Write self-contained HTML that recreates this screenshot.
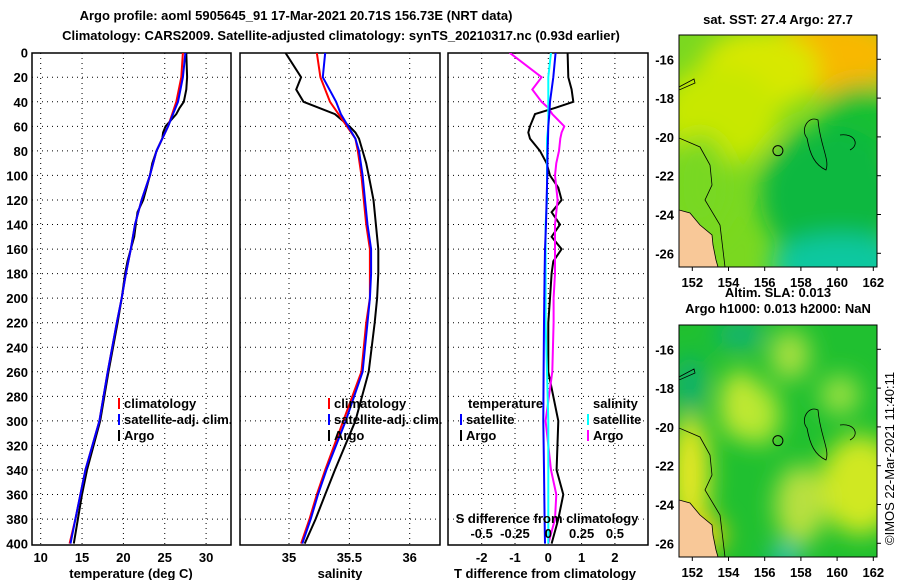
<!DOCTYPE html>
<html><head><meta charset="utf-8"><style>
body{margin:0;background:#fff;font-family:"Liberation Sans",sans-serif;}
svg text{font-family:"Liberation Sans",sans-serif;font-weight:bold;font-size:13px;fill:#000}
</style></head><body>
<svg id="fig" width="900" height="580" xmlns="http://www.w3.org/2000/svg">
<defs>
<filter id="blur" x="-50%" y="-50%" width="200%" height="200%"><feGaussianBlur stdDeviation="12"/></filter>
<clipPath id="c1"><rect x="679" y="35" width="198" height="232"/></clipPath>
<clipPath id="c2"><rect x="679" y="325" width="198" height="232"/></clipPath>
<clipPath id="p1"><rect x="32" y="53" width="199" height="492"/></clipPath>
<clipPath id="p2"><rect x="240" y="53" width="200" height="492"/></clipPath>
<clipPath id="p3"><rect x="448" y="53" width="200" height="492"/></clipPath>
</defs>
<text x="296" y="20" text-anchor="middle">Argo profile: aoml 5905645_91 17-Mar-2021 20.71S 156.73E (NRT data)</text>
<text x="341" y="40" text-anchor="middle">Climatology: CARS2009. Satellite-adjusted climatology: synTS_20210317.nc (0.93d earlier)</text>
<g id="plots"></g>
<g id="maps"></g>
<text x="778" y="24" text-anchor="middle" font-size="12">sat. SST: 27.4 Argo: 27.7</text>
<text x="778" y="297" text-anchor="middle" font-size="12">Altim. SLA: 0.013</text>
<text x="778" y="313" text-anchor="middle" font-size="12">Argo h1000: 0.013 h2000: NaN</text>
<text transform="translate(894,545) rotate(-90)" style="font-weight:normal" font-size="12">©IMOS 22-Mar-2021 11:40:11</text>
</svg>
<script>
// ---- data ----
const depths = [0,20,40,50,60,70,80,100,120,140,160,180,200,220,260,300,340,360,380,400];
const tempClim = [27.2,27.0,26.4,25.9,25.4,24.7,24.0,23.2,22.2,21.4,20.9,20.3,19.8,19.2,18.1,17.1,15.4,14.8,14.2,13.5];
const tempSat  = [27.5,27.2,26.6,26.0,25.4,24.7,24.0,23.2,22.2,21.4,20.9,20.3,19.8,19.2,18.1,17.1,15.4,14.8,14.2,13.6];
const argoDepths = [0,20,30,40,45,50,60,65,70,80,90,100,110,120,130,140,150,160,170,180,200,220,260,300,340,360,380,400];
const tempArgo = [27.6,27.7,27.6,27.3,26.8,26.4,25.1,24.8,24.7,24.0,23.5,23.2,22.8,22.4,21.7,21.5,21.3,20.9,20.5,20.2,19.8,19.3,18.2,17.2,15.6,15.0,14.5,14.0];
const salClim = [35.23,35.26,35.34,35.41,35.48,35.55,35.57,35.60,35.62,35.64,35.67,35.67,35.67,35.64,35.6,35.45,35.3,35.23,35.17,35.10];
const salSat  = [35.30,35.28,35.39,35.43,35.49,35.55,35.58,35.61,35.63,35.65,35.68,35.68,35.67,35.65,35.61,35.47,35.31,35.24,35.18,35.11];
const salArgo = [34.97,35.1,35.06,35.12,35.25,35.38,35.5,35.55,35.58,35.61,35.64,35.66,35.68,35.7,35.71,35.72,35.73,35.74,35.74,35.74,35.73,35.71,35.66,35.55,35.38,35.3,35.22,35.13];
const tDiffArgo = [0.58,0.6,0.7,0.75,0.2,-0.4,-0.55,-0.6,-0.55,-0.25,-0.05,0.05,0.3,0.4,0.1,0.35,0.1,0.4,0.15,0.1,0.05,0.0,0.0,0.3,0.25,0.45,0.3,0.1];
const sDiffArgo = [-0.29,-0.05,-0.12,-0.05,0.0,0.03,0.12,0.1,0.09,0.08,0.06,0.05,0.06,0.07,0.06,0.05,0.05,0.05,0.05,0.05,0.04,0.04,0.03,-0.02,0.02,0.06,0.05,0.0];
const tDiffSat = [0.22,0.15,0.05,0.03,0.0,-0.01,-0.02,-0.03,-0.05,-0.07,-0.1,-0.11,-0.12,-0.13,-0.14,-0.15,-0.13,-0.12,-0.11,-0.1];
const sDiffSat = [0.02,0.0,0.0,0.0,0.0,-0.01,-0.01,-0.01,-0.01,-0.02,-0.02,-0.02,-0.02,-0.02,-0.01,0.0,0.0,0.0,0.0,0.0];
const depthTicks = [0,20,40,60,80,100,120,140,160,180,200,220,240,260,280,300,320,340,360,380,400];
const tempTicks = [10,15,20,25,30];
const salTicks = [35,35.5,36];
const tdTicks = [-2,-1,0,1,2];
const sdTicks = [-0.5,-0.25,0,0.25,0.5];
const latTicks = [-16,-18,-20,-22,-24,-26];
const lonTicks = [152,154,156,158,160,162];

const NS='http://www.w3.org/2000/svg';
function mk(tag,attrs,parent){const e=document.createElementNS(NS,tag);for(const k in attrs)e.setAttribute(k,attrs[k]);parent.appendChild(e);return e;}
const y = d => 52.7 + d*1.2273;
const xT = t => 40.7 + (t-10)*8.27;
const xS = s => 289 + (s-35)*120.7;
const xTD = v => 548.3 + v*33.3;
const xSD = v => 548.3 + v*133.3;
const G=document.getElementById('plots');

function panel(x0,x1,name,vt,vfn){
  const g=mk('g',{},G);
  
  
  depthTicks.forEach(d=>{ if(d>0&&d<400){const l=mk('line',{x1:x0,x2:x1,y1:y(d),y2:y(d),stroke:'#000','stroke-dasharray':'1,4'},g);
    
    }});
  vt.forEach(v=>{const l=mk('line',{x1:vfn(v),x2:vfn(v),y1:53,y2:545,stroke:'#000','stroke-dasharray':'1,4'},g);
    
    });
  const r=mk('rect',{x:x0,y:53,width:x1-x0,height:492,fill:'none',stroke:'#000','stroke-width':1.5},g);
  
  
  return g;
}
function line(g,xs,ds,fx,col,name,clip){
  const pts=xs.map((v,i)=>fx(v).toFixed(1)+','+y(ds[i]).toFixed(1)).join(' ');
  const p=mk('polyline',{points:pts,fill:'none',stroke:col,'stroke-width':2,'clip-path':'url(#'+clip+')'},g);
  
  
}
function txt(g,x,yy,s,name,anchor){const t=mk('text',{x:x,y:yy,'text-anchor':anchor||'start'},g);t.textContent=s;
  
  return t;}

const g1=panel(32,231,'temperature-panel',tempTicks,xT);
depthTicks.forEach(d=>txt(g1,28,y(d)+5,String(d),'depth-tick-label','end'));
tempTicks.forEach(t=>txt(g1,xT(t),562,String(t),'temp-tick-label','middle'));
txt(g1,131,578,'temperature (deg C)','temp-axis-title','middle');
line(g1,tempArgo,argoDepths,xT,'#000','temp-argo-line','p1');
line(g1,tempClim,depths,xT,'#f00','temp-climatology-line','p1');
line(g1,tempSat,depths,xT,'#00f','temp-satellite-line','p1');

const g2=panel(240,440,'salinity-panel',salTicks,xS);
salTicks.forEach(t=>txt(g2,xS(t),562,String(t),'sal-tick-label','middle'));
txt(g2,340,578,'salinity','sal-axis-title','middle');
line(g2,salArgo,argoDepths,xS,'#000','sal-argo-line','p2');
line(g2,salClim,depths,xS,'#f00','sal-climatology-line','p2');
line(g2,salSat,depths,xS,'#00f','sal-satellite-line','p2');

const g3=panel(448,648,'difference-panel',tdTicks,xTD);
tdTicks.forEach(t=>txt(g3,xTD(t),562,String(t),'tdiff-tick-label','middle'));
txt(g3,545,578,'T difference from climatology','tdiff-axis-title','middle');
line(g3,tDiffArgo,argoDepths,xTD,'#000','tdiff-argo-line','p3');
line(g3,sDiffArgo,argoDepths,xSD,'#f0f','sdiff-argo-line','p3');
line(g3,sDiffSat,depths,xSD,'#0ff','sdiff-satellite-line','p3');
line(g3,tDiffSat,depths,xTD,'#00f','tdiff-satellite-line','p3');
txt(g3,547,523,'S difference from climatology','sdiff-axis-title','middle');
sdTicks.forEach(t=>txt(g3,xSD(t),538,String(t),'sdiff-tick-label','middle'));

function legend(g,x,yy,items){items.forEach((it,i)=>{
  const l=mk('line',{x1:x,x2:x,y1:yy+i*16-10,y2:yy+i*16+1,stroke:it[1],'stroke-width':2},g);
  
  
  txt(g,x+5,yy+i*16,it[0],'legend-entry');});}
legend(g1,119,408,[['climatology','#f00'],['satellite-adj. clim.','#00f'],['Argo','#000']]);
legend(g2,329,408,[['climatology','#f00'],['satellite-adj. clim.','#00f'],['Argo','#000']]);
txt(g3,468,408,'temperature','legend-header');
legend(g3,461,424,[['satellite','#00f'],['Argo','#000']]);
txt(g3,593,408,'salinity','legend-header');
legend(g3,588,424,[['satellite','#0ff'],['Argo','#f0f']]);

// maps
const M=document.getElementById('maps');
const mx = lon => 692.3 + (lon-152)*18.1;
function map(y0,latY,clip,name,bg,blobs){
  const g=mk('g',{},M);
  
  
  const inner=mk('g',{'clip-path':'url(#'+clip+')'},g);
  mk('rect',{x:679,y:y0,width:198,height:232,fill:bg},inner);
  const bl=mk('g',{filter:'url(#blur)'},inner);
  blobs.forEach(b=>mk('ellipse',{cx:b[0],cy:y0+b[1],rx:b[2],ry:b[3],fill:b[4]},bl));
  const land=mk('polygon',{points:`679,${y0+175} 690,${y0+178} 700,${y0+190} 712,${y0+200} 713,${y0+210} 716,${y0+225} 718,${y0+232} 679,${y0+232}`,fill:'#f8c898',stroke:'#000','stroke-width':0.8},inner);
  
  
  const c=mk('path',{d:`M679,${y0+103} L700,${y0+112} L710,${y0+130} L712,${y0+150} L705,${y0+165} L720,${y0+190} L725,${y0+232}
    M807,${y0+103} C800,${y0+95} 808,${y0+80} 818,${y0+85} C820,${y0+110} 830,${y0+125} 826,${y0+135} C815,${y0+130} 810,${y0+120} 807,${y0+103}
    M840,${y0+100} C855,${y0+98} 860,${y0+110} 850,${y0+115} M679,${y0+52} L694,${y0+44} L695,${y0+48} L679,${y0+55}`,fill:'none',stroke:'#000','stroke-width':0.8},inner);
  
  
  const circ=mk('circle',{cx:mx(156.73),cy:latY+(20.71-16)*19.4,r:5,fill:'none',stroke:'#000'},inner);
  
  
  const r=mk('rect',{x:679,y:y0,width:198,height:232,fill:'none',stroke:'#000','stroke-width':1},g);
  
  
  latTicks.forEach(la=>{const yy=latY+(-16-la)*19.4;
    mk('line',{x1:877,x2:881,y1:yy,y2:yy,stroke:'#000'},g);
    txt(g,674,yy+5,String(la),'lat-tick-label','end');});
  lonTicks.forEach(lo=>{mk('line',{x1:mx(lo),x2:mx(lo),y1:y0+232,y2:y0+236,stroke:'#000'},g);
    txt(g,mx(lo),y0+252,String(lo),'lon-tick-label','middle');});
}
map(35,59.3,'c1','sst-map','#7ad820',[
 [830,20,70,40,'#f8b800'],[760,35,60,40,'#d8e800'],[720,80,60,50,'#c8e800'],[860,90,40,40,'#18c030'],
 [830,160,70,70,'#10b840'],[840,230,70,30,'#10c8a0'],[700,150,30,50,'#78d820']]);
map(325,349.3,'c2','sla-map','#20c030',[
 [740,80,20,35,'#c8e830'],[790,30,20,25,'#a8e040'],[760,90,20,30,'#b8e830'],[860,160,40,50,'#d0e820'],
 [690,150,20,60,'#e8e820'],[800,180,25,40,'#b8e040'],[700,210,25,20,'#f0d010'],[840,70,20,20,'#98e040'],
 [740,10,25,12,'#10b080'],[785,232,15,10,'#10c0e0'],[690,60,15,30,'#10b070']]);
</script>
</body></html>
